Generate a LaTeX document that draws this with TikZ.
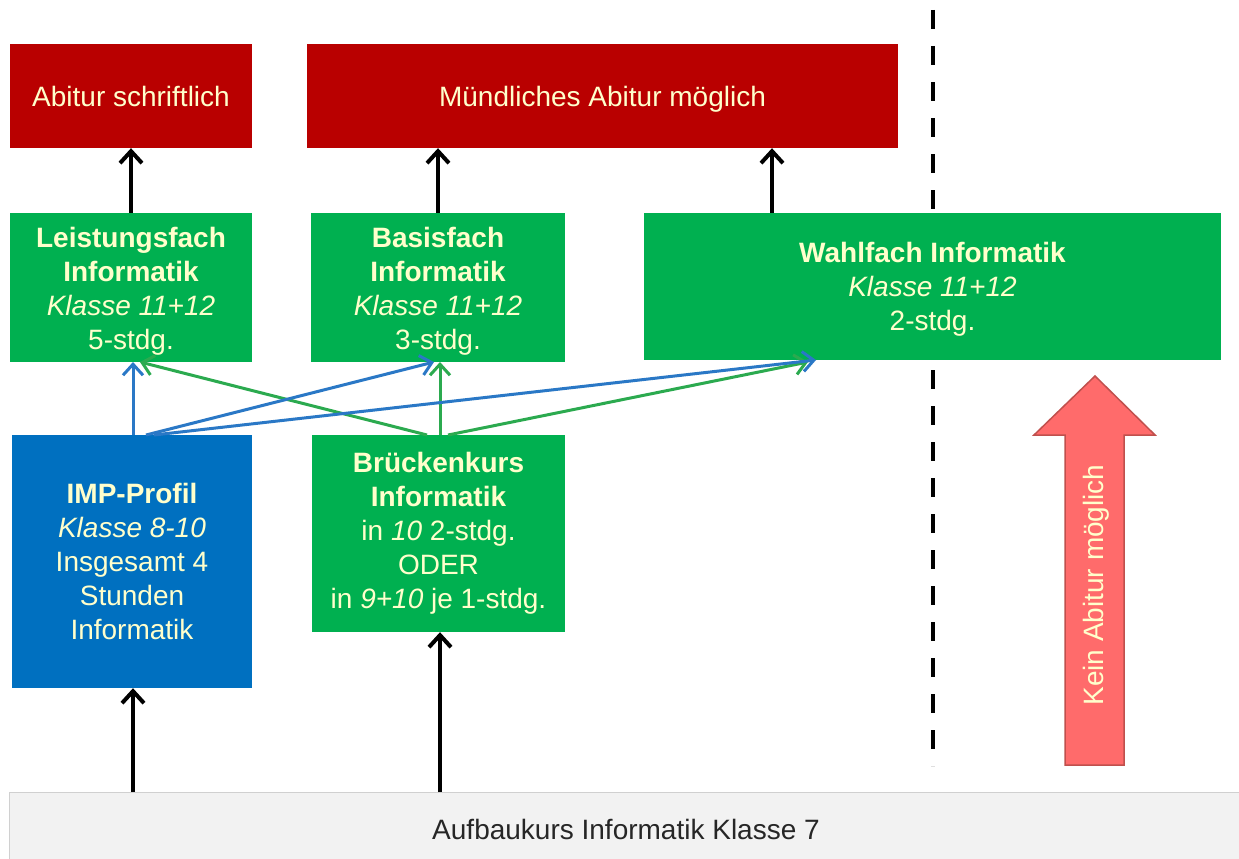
\documentclass[tikz,border=0pt]{standalone}
\usepackage{fontspec}
\setmainfont{Liberation Sans}
\usetikzlibrary{arrows.meta,calc}
\definecolor{boxred}{HTML}{B90000}
\definecolor{boxgreen}{HTML}{00B050}
\definecolor{boxblue}{HTML}{0070C0}
\definecolor{txtyellow}{HTML}{FFFFCC}
\definecolor{arrblue}{HTML}{2A78C6}
\definecolor{arrgreen}{HTML}{2BAA4F}
\definecolor{barfill}{HTML}{F2F2F2}
\definecolor{barline}{HTML}{D0D0D0}
\definecolor{redarrow}{HTML}{FF6B6B}
\definecolor{redarrowline}{HTML}{C0504D}
\begin{document}
\begin{tikzpicture}[x=1pt,y=-1pt,
  box/.style={rectangle, inner sep=0pt, align=center, text=txtyellow,
    font=\fontsize{28}{34}\selectfont},
  redbox/.style={box, fill=boxred, text height=20pt, text depth=0pt},
  greenbox/.style={box, fill=boxgreen},
  bluebox/.style={box, fill=boxblue},
  blk/.style={line width=4pt, -{Straight Barb[length=12pt,width=22pt]}},
  bluearr/.style={arrblue, line width=3pt, -{Straight Barb[length=11pt,width=20pt]}},
  greenarr/.style={arrgreen, line width=3pt, -{Straight Barb[length=11pt,width=20pt]}},
  sep/.style={line width=4pt, dash pattern=on 19pt off 17pt}]
\useasboundingbox (0,0) rectangle (1239,859);
\fill[white] (0,0) rectangle (1239,859);

% separator
\coordinate (septop) at (933,10);
\coordinate (sepbot) at (933,766);
\draw[sep] (septop) -- (sepbot);

% top red boxes
\node[redbox, minimum width=242pt, minimum height=104pt] (red1) at (131,96) {Abitur schriftlich};
\node[redbox, minimum width=591pt, minimum height=104pt] (red2) at (602.5,96) {Mündliches Abitur möglich};

% green subject boxes
\node[greenbox, minimum width=242pt, minimum height=149pt] (leist) at (131,287.5)
  {\rule{0pt}{27pt}\textbf{Leistungsfach}\\\textbf{Informatik}\\\textit{Klasse 11+12}\\5-stdg.};
\node[greenbox, minimum width=254pt, minimum height=149pt] (basis) at (438,287.5)
  {\rule{0pt}{27pt}\textbf{Basisfach}\\\textbf{Informatik}\\\textit{Klasse 11+12}\\3-stdg.};
\node[greenbox, minimum width=577pt, minimum height=147pt] (wahl) at (932.5,286.5)
  {\rule{0pt}{25pt}\textbf{Wahlfach Informatik}\\\textit{Klasse 11+12}\\2-stdg.};

% lower boxes
\node[bluebox, minimum width=240pt, minimum height=253pt] (imp) at (132,561.5)
  {\textbf{IMP-Profil}\\\textit{Klasse 8-10}\\Insgesamt 4\\Stunden\\Informatik};
\node[greenbox, minimum width=253pt, minimum height=197pt] (brueck) at (438.5,533.5)
  {\textbf{Brückenkurs}\\\textbf{Informatik}\\in \textit{10} 2-stdg.\\ODER\\in \textit{9+10} je 1-stdg.};

% bottom bar
\node[rectangle, fill=barfill, draw=barline, line width=1pt, inner sep=0pt,
  minimum width=1234pt, minimum height=78pt, text=black!85,
  font=\fontsize{28}{34}\selectfont] (bar) at (626,831) {\raisebox{3pt}{Aufbaukurs Informatik Klasse 7}};

% red "Kein Abitur" arrow
\draw[fill=redarrow, draw=redarrowline, line width=1.5pt]
  (1065,765) -- (1065,435) -- (1034,435) -- (1095,376) -- (1155,435) -- (1124,435) -- (1124,765) -- cycle;
\node[rotate=90, text=txtyellow, inner sep=0pt, font=\fontsize{28}{34}\selectfont] (kein) at (1096,585) {Kein Abitur möglich};

% black arrows
\draw[blk] (leist.north) -- (red1.south);
\draw[blk] (basis.north) -- (basis.north |- red2.south);
\coordinate (wtop) at (772,213);
\draw[blk] (wtop) -- (wtop |- red2.south);
\coordinate (b1) at (133,792);
\coordinate (b2) at (440,792);
\draw[blk] (b1) -- (b1 |- imp.south);
\draw[blk] (b2) -- (b2 |- brueck.south);

% green connectors from Brückenkurs
\coordinate (bk1) at (427,435);
\coordinate (bk2) at (440,435);
\coordinate (bk3) at (448,435);
\coordinate (le2) at (140,362);
\coordinate (ba2) at (440,362);
\coordinate (wa2) at (808,362);
\draw[greenarr] (bk1) -- (le2);
\draw[greenarr] (bk2) -- (ba2);
\draw[greenarr] (bk3) -- (wa2);

% blue connectors from IMP
\coordinate (im1) at (133,435);
\coordinate (im2) at (146,435);
\coordinate (im3) at (154,435);
\coordinate (le1) at (133,362);
\coordinate (ba1) at (434,362);
\coordinate (wa1) at (816,360);
\draw[bluearr] (im1) -- (le1);
\draw[bluearr] (im2) -- (ba1);
\draw[bluearr] (im3) -- (wa1);
\end{tikzpicture}
\end{document}
